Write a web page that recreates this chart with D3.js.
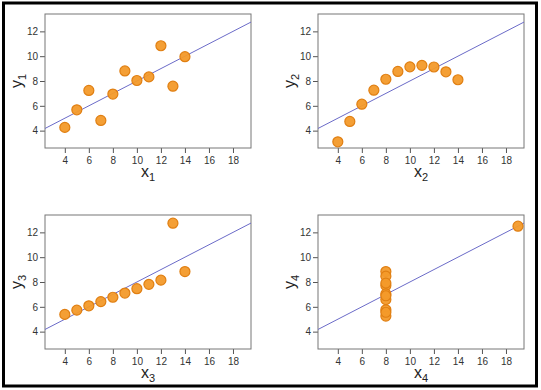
<!DOCTYPE html>
<html><head><meta charset="utf-8">
<script src="https://cdn.jsdelivr.net/npm/d3@7"></script>
<style>body{margin:0;background:#fff}svg{display:block}</style>
</head><body>
<script>
const x123 = [10, 8, 13, 9, 11, 14, 6, 4, 12, 7, 5];
const y1 = [8.04, 6.95, 7.58, 8.81, 8.33, 9.96, 7.24, 4.26, 10.84, 4.82, 5.68];
const y2 = [9.14, 8.14, 8.74, 8.77, 9.26, 8.10, 6.13, 3.10, 9.13, 7.26, 4.74];
const y3 = [7.46, 6.77, 12.74, 7.11, 7.81, 8.84, 6.08, 5.39, 8.15, 6.42, 5.73];
const x4 = [8, 8, 8, 8, 8, 8, 8, 19, 8, 8, 8];
const y4 = [6.58, 5.76, 7.71, 8.84, 8.47, 7.04, 5.25, 12.50, 5.56, 7.91, 6.89];
const xTicks = [4, 6, 8, 10, 12, 14, 16, 18];
const yTicks = [4, 6, 8, 10, 12];
const fitIntercept = 3, fitSlope = 0.5;

const panels = [
  {xs: x123, ys: y1, n: "1"},
  {xs: x123, ys: y2, n: "2"},
  {xs: x123, ys: y3, n: "3"},
  {xs: x4, ys: y4, n: "4"}
];
const W = 541, H = 390;
const font = "'Liberation Sans', Arial, sans-serif";
const svg = d3.select("body").append("svg").attr("width", W).attr("height", H);
svg.append("rect").attr("x", 3.5).attr("y", 3).attr("width", 533).attr("height", 383)
  .attr("fill", "none").attr("stroke", "#000").attr("stroke-width", 3);

const offsets = [[0, 0], [273, 0], [0, 201], [273, 201]];
const bw = 206, bh = 134;
const x = d3.scaleLinear().domain([2.35, 19.5]).range([0, bw]);
const y = d3.scaleLinear().domain([2.6, 13.4]).range([bh, 0]);

panels.forEach((p, i) => {
  const g = svg.append("g").attr("transform", `translate(${offsets[i][0] + 45},${offsets[i][1] + 14})`);
  const clipId = "clip" + i;
  g.append("clipPath").attr("id", clipId).append("rect").attr("width", bw).attr("height", bh);
  const xa = g.append("g").attr("transform", `translate(0,${bh})`)
    .call(d3.axisBottom(x).tickValues(xTicks).tickSize(5).tickPadding(4));
  const ya = g.append("g").call(d3.axisLeft(y).tickValues(yTicks).tickSize(5).tickPadding(2));
  [xa, ya].forEach(a => {
    a.select(".domain").remove();
    a.selectAll("line").attr("stroke", "#555");
    a.selectAll("text").attr("fill", "#333").style("font-family", font).style("font-size", "10px");
  });
  g.append("rect").attr("width", bw).attr("height", bh).attr("fill", "none").attr("stroke", "#777").attr("stroke-width", 1);
  g.append("line").attr("clip-path", `url(#${clipId})`)
    .attr("x1", x(2.35)).attr("y1", y(fitIntercept + fitSlope * 2.35))
    .attr("x2", x(19.5)).attr("y2", y(fitIntercept + fitSlope * 19.5))
    .attr("stroke", "#6b6bc8").attr("stroke-width", 1);
  g.selectAll("circle").data(p.xs.map((v, k) => [v, p.ys[k]])).enter().append("circle")
    .attr("cx", d => x(d[0])).attr("cy", d => y(d[1])).attr("r", 5)
    .attr("fill", "#f39a2a").attr("stroke", "#e07f12").attr("stroke-width", 1.2).attr("fill-opacity", 0.95);
  const xt = g.append("text").attr("x", bw / 2).attr("y", bh + 29).attr("text-anchor", "middle")
    .style("font-family", font).style("font-size", "16px").attr("fill", "#222");
  xt.append("tspan").text("x");
  xt.append("tspan").attr("dy", 4).style("font-size", "11px").text(p.n);
  const yt = g.append("text").attr("transform", `translate(-23,${bh / 2}) rotate(-90)`).attr("text-anchor", "middle")
    .style("font-family", font).style("font-size", "16px").attr("fill", "#222");
  yt.append("tspan").text("y");
  yt.append("tspan").attr("dy", 4).style("font-size", "11px").text(p.n);
});
</script>
</body></html>
